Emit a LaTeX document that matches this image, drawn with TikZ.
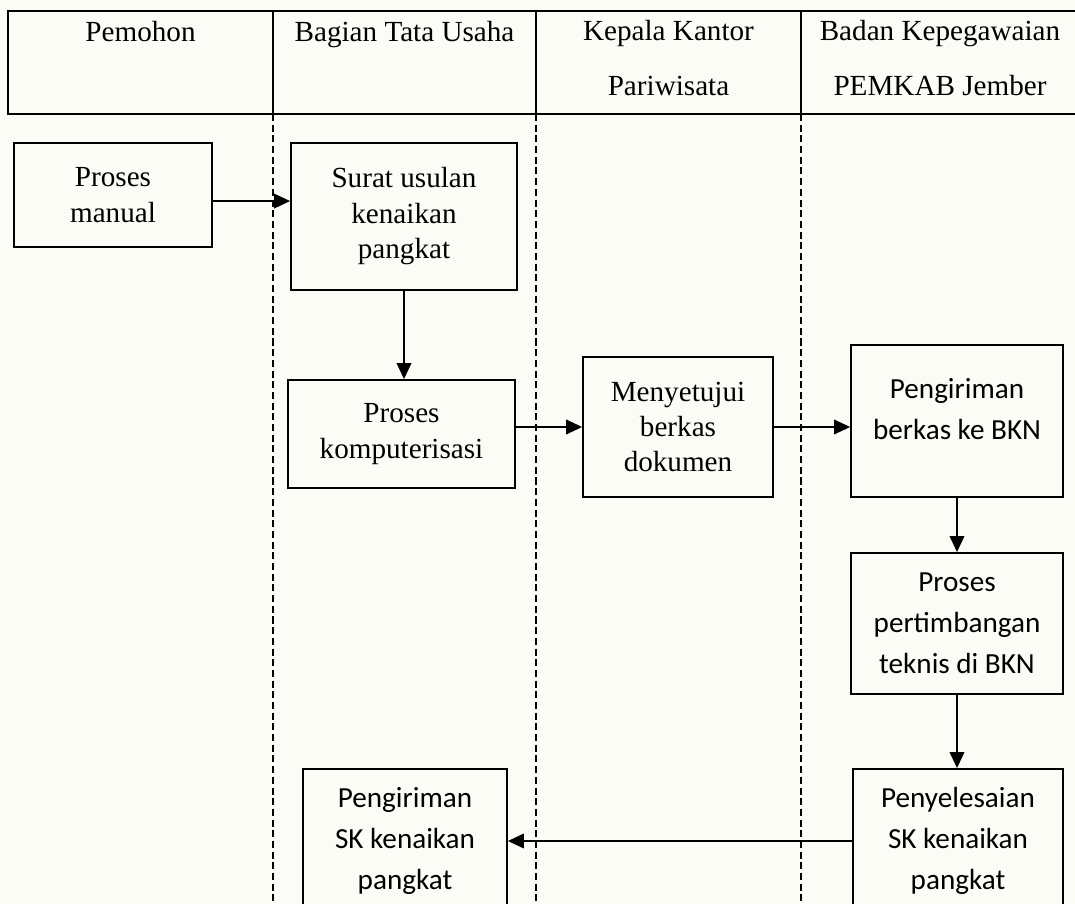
\documentclass[tikz,border=0pt]{standalone}
\usepackage{fontspec}
\setmainfont{Liberation Serif}
\newfontfamily\calibri{Carlito}
\usetikzlibrary{arrows.meta}
\definecolor{paper}{RGB}{252,252,247}

\begin{document}
\begin{tikzpicture}[x=0.01446cm,y=-0.01446cm,
        font=\fontsize{12}{14.6}\selectfont,
        lane/.style={line width=0.65pt,dash pattern=on 2.9pt off 1.5pt},
        head/.style={align=center,font=\fontsize{12}{22.6}\selectfont},
        proc/.style={draw,line width=0.75pt,align=center,inner sep=0pt},
        bkn/.style={proc,font=\calibri\fontsize{12}{16.9}\selectfont},
        flow/.style={line width=0.75pt,-{Triangle[length=6.6pt,width=6pt]}}]
        \useasboundingbox[fill=paper] (0,0) rectangle (1075,904);
        \clip (0,0) rectangle (1075,904);
        %% Header and lanes
        \draw[line width=0.75pt] (1075,11) -- (8,11) -- (8,114) -- (1075,114);
        \foreach \x in {273,536,801} {
            \draw[line width=0.75pt] (\x,11) -- (\x,114);
            \draw[lane] (\x,114) -- (\x,904);
        }
        \node[head,anchor=base] (pemohon) at (140.5,42) {Pemohon};
        \node[head,anchor=base] (tatausaha) at (404.5,42) {Bagian Tata Usaha};
        \node[head] (kepala) at (668.5,58) {Kepala Kantor\\Pariwisata};
        \node[head] (bkd) at (940,58) {Badan Kepegawaian\\PEMKAB Jember};
        %% Process boxes
        \node[proc,minimum width=2.863cm,minimum height=1.504cm] (manual) at (113,195) {Proses\\manual};
        \node[proc,minimum width=3.268cm,minimum height=2.126cm] (surat) at (404,216.5) {Surat usulan\\kenaikan\\pangkat};
        \node[proc,minimum width=3.282cm,minimum height=1.562cm] (komp) at (401.5,434) {Proses\\komputerisasi};
        \node[proc,minimum width=2.747cm,minimum height=2.024cm] (setuju) at (678,427) {Menyetujui\\berkas\\dokumen};
        \node[bkn,minimum width=3.065cm,minimum height=2.198cm] (kirim) at (957,421) {Pengiriman\\berkas ke BKN\\[-7pt]\mbox{}};
        \node[bkn,minimum width=3.065cm,minimum height=2.039cm] (timbang) at (957,623.5) {Proses\\pertimbangan\\teknis di BKN};
        \node[bkn,minimum width=3.037cm,minimum height=2.082cm] (selesai) at (958,841) {Penyelesaian\\SK kenaikan\\pangkat};
        \node[bkn,minimum width=2.950cm,minimum height=2.082cm] (sk) at (405,841) {Pengiriman\\SK kenaikan\\pangkat};
        %% Arrows
        \coordinate (m1) at ([yshift=-2.5pt]manual.east);
        \draw[flow] (m1) -- (m1 -| surat.west);
        \draw[flow] (surat.south) -- (surat.south |- komp.north);
        \draw[flow] (setuju.west -| komp.east) -- (setuju.west);
        \draw[flow] (setuju.east) -- (setuju.east -| kirim.west);
        \draw[flow] (kirim.south) -- (timbang.north);
        \draw[flow] (timbang.south) -- (timbang.south |- selesai.north);
        \draw[flow] (selesai.west) -- (selesai.west -| sk.east);
    \end{tikzpicture}
\end{document}
